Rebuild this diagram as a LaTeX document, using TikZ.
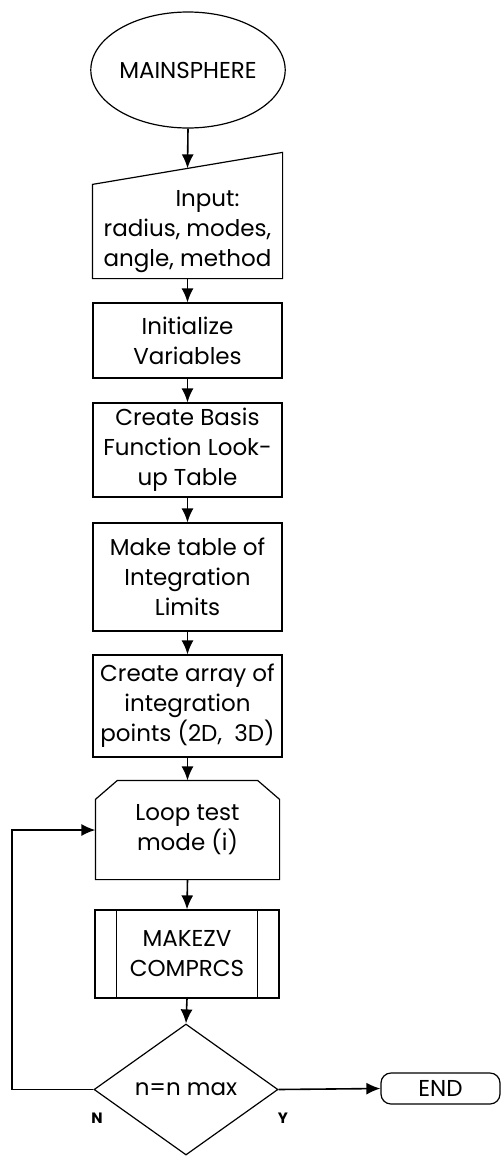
\documentclass[tikz,border=0pt]{standalone}
\usepackage{fontspec}
\setmainfont{Poppins}
\usetikzlibrary{shapes.geometric,arrows.meta,calc}
\newcommand\mainfnt{\fontsize{23}{30}\selectfont}
\newcommand\lblfnt{\fontsize{15}{18}\selectfont\bfseries}
\begin{document}
\begin{tikzpicture}[x=1pt,y=-1pt]
\tikzset{
 lw/.style={line width=1.2pt},
 box/.style={draw, line width=1.2pt, rectangle, minimum width=189pt, align=center, inner sep=0pt, font=\mainfnt},
 arr/.style={line width=1.6pt, -{Latex[length=14pt,width=12pt]}},
}
\useasboundingbox (0,0) rectangle (501,1157);
\node[draw, ellipse, lw, minimum width=188pt, minimum height=116pt, inner sep=0pt, font=\mainfnt] (start) at (188,70) {MAINSPHERE};
\node[box, draw=none, minimum height=93pt] (inp) at (187.5,231.5) {\hspace*{40pt}Input:\\radius, modes,\\angle, method};
\coordinate (inpTR) at ([yshift=32pt]inp.north east);
\draw[lw] (inp.north west) -- (inpTR) -- (inp.south east) -- (inp.south west) -- cycle;
\coordinate (inpTop) at ($(inp.north west)!0.5!(inpTR)$);
\node[box, minimum height=75pt] (init) at (187.5,340.5) {Initialize\\Variables};
\node[box, minimum height=94pt] (basis) at (187.5,450) {Create Basis\\Function Look-\\up Table};
\node[box, minimum height=108pt] (limits) at (187.5,577) {Make table of\\Integration\\Limits};
\node[box, minimum height=102pt] (array) at (187.5,706) {Create array of\\integration\\points (2D,\ \ 3D)};
\node[box, draw=none, minimum width=183pt, minimum height=98pt] (loop) at (187.5,830) {Loop test\\mode (i)};
\draw[lw] ([xshift=22pt]loop.north west) -- ([xshift=-22pt]loop.north east) -- ([yshift=-19pt]loop.north east) -- (loop.south east) -- (loop.south west) -- ([yshift=-19pt]loop.north west) -- cycle;
\node[box, minimum width=184pt, minimum height=88pt] (mk) at (187,954) {MAKEZV\\COMPRCS};
\draw[lw] ([xshift=22pt]mk.north west) -- ([xshift=22pt]mk.south west);
\draw[lw] ([xshift=-22pt]mk.north east) -- ([xshift=-22pt]mk.south east);
\node[draw, diamond, lw, aspect=1.4, minimum width=184pt, minimum height=131pt, inner sep=0pt, font=\mainfnt] (dec) at (186,1089.5) {n=n max};
\node[draw, lw, rounded corners=10pt, minimum width=119pt, minimum height=31pt, inner sep=0pt, font=\mainfnt] (fin) at (440.5,1088.5) {END};
\node[font=\lblfnt, inner sep=0pt] (nlab) at (97,1118) {N};
\node[font=\lblfnt, inner sep=0pt] (ylab) at (283,1118) {Y};
\coordinate (lp) at (12,1089.5);
\draw[arr] (start.south) -- (inpTop);
\draw[arr] (inp.south) -- (init.north);
\draw[arr] (init.south) -- (basis.north);
\draw[arr] (basis.south) -- (limits.north);
\draw[arr] (limits.south) -- (array.north);
\draw[arr] (array.south) -- (loop.north);
\draw[arr] (loop.south) -- (mk.north);
\draw[arr] (mk.south) -- (dec.north);
\draw[arr] (dec.west) -- (lp) |- (loop.west);
\draw[arr] (dec.east) -- (fin.west);
\end{tikzpicture}
\end{document}
